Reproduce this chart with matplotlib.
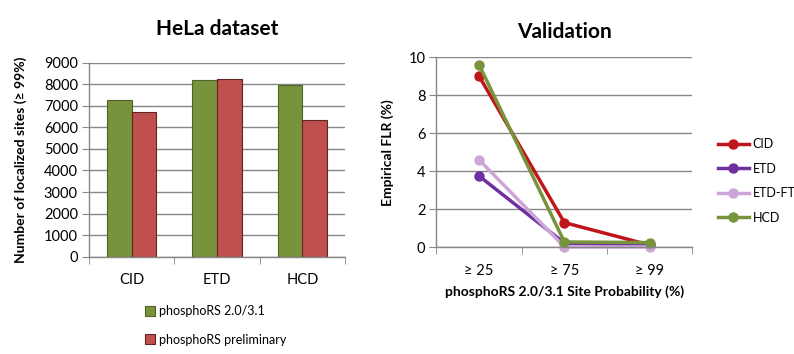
import numpy as np
import matplotlib
matplotlib.use('Agg')
import matplotlib.pyplot as plt

plt.rcParams['font.family'] = ['Lato', 'DejaVu Sans']

# left chart data
methods = ['CID', 'ETD', 'HCD']
rs_new = [7250, 8190, 7950]
rs_pre = [6700, 8230, 6320]
bar_labels = ['phosphoRS 2.0/3.1', 'phosphoRS preliminary']
bar_ticks = [0, 1000, 2000, 3000, 4000, 5000, 6000, 7000, 8000, 9000]

# right chart data
prob_labels = ['\u2265 25', '\u2265 75', '\u2265 99']
flr_cid = [9.0, 1.3, 0.12]
flr_etd = [3.75, 0.22, 0.1]
flr_etdft = [4.6, 0.02, 0.02]
flr_hcd = [9.6, 0.28, 0.25]
flr_ticks = [0, 2, 4, 6, 8, 10]

grid_c = '#868686'
W, H = 794, 354
fig = plt.figure(figsize=(W / 100, H / 100), dpi=100)

def box(l, t, r, b):
    return [l / W, 1 - b / H, (r - l) / W, (b - t) / H]

def style(ax):
    for s in ['top', 'right']:
        ax.spines[s].set_visible(False)
    for s in ['left', 'bottom']:
        ax.spines[s].set_color(grid_c)
        ax.spines[s].set_linewidth(1)
    ax.grid(axis='y', color=grid_c, linewidth=1)
    ax.set_axisbelow(True)
    ax.tick_params(axis='y', length=5, color=grid_c, labelsize=10.5, pad=3)
    ax.tick_params(axis='x', which='minor', length=5, color=grid_c)
    ax.tick_params(axis='x', which='major', length=0, labelsize=10.5, pad=12)

# ---- bar chart
ax1 = fig.add_axes(box(89, 62.7, 345, 256.7))
x = np.arange(len(methods))
bw = 0.29
ax1.bar(x - bw / 2, rs_new, bw, color='#77933C', edgecolor='#4F6228',
        linewidth=0.8, label=bar_labels[0])
ax1.bar(x + bw / 2, rs_pre, bw, color='#C0504D', edgecolor='#632523',
        linewidth=0.8, label=bar_labels[1])
ax1.set_xlim(-0.5, 2.5)
ax1.set_ylim(0, 9000)
ax1.set_yticks(bar_ticks)
ax1.set_xticks(x)
ax1.set_xticklabels(methods)
ax1.set_xticks([-0.5, 0.5, 1.5, 2.5], minor=True)
style(ax1)
ax1.set_ylabel('Number of localized sites (\u2265 99%)', fontsize=10,
               fontweight='bold', labelpad=12)
ax1.set_title('HeLa dataset', fontsize=15, fontweight='bold', pad=20)
ax1.legend(loc='upper left', bbox_to_anchor=(0.2, -0.225), frameon=False,
           fontsize=9, handlelength=0.8, handleheight=0.8, handletextpad=0.3,
           labelspacing=1.3, borderaxespad=0)

# ---- line chart
ax2 = fig.add_axes(box(436.5, 57.3, 692.3, 247.3))
xp = np.arange(len(prob_labels))
series = [
    ('CID', flr_cid, '#C0161B'),
    ('ETD', flr_etd, '#7030A0'),
    ('ETD-FT', flr_etdft, '#CCA6D8'),
    ('HCD', flr_hcd, '#77933C'),
]
for name, vals, c in series:
    ax2.plot(xp, vals, color=c, linewidth=2.5, marker='o', markersize=6.5,
             label=name, clip_on=False)
ax2.set_xlim(-0.5, 2.5)
ax2.set_ylim(0, 10)
ax2.set_yticks(flr_ticks)
ax2.set_xticks(xp)
ax2.set_xticklabels(prob_labels)
ax2.set_xticks([-0.5, 0.5, 1.5, 2.5], minor=True)
style(ax2)
ax2.set_ylabel('Empirical FLR (%)', fontsize=10, fontweight='bold', labelpad=10)
ax2.set_xlabel('phosphoRS 2.0/3.1 Site Probability (%)', fontsize=10,
               fontweight='bold', labelpad=5)
ax2.set_title('Validation', fontsize=15, fontweight='bold', pad=14)
ax2.legend(loc='upper left', bbox_to_anchor=(1.08, 0.6), frameon=False,
           fontsize=9, handlelength=2.5, handletextpad=0.3, labelspacing=1.0,
           borderaxespad=0)

fig.savefig('out.png', dpi=100)
